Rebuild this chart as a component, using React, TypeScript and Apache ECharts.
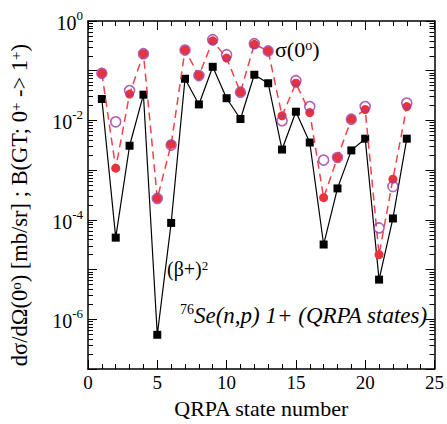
import React, { useEffect, useRef } from "react";
import * as echarts from "echarts";

const states = [1, 2, 3, 4, 5, 6, 7, 8, 9, 10, 11, 12, 13, 14, 15, 16, 17, 18, 19, 20, 21, 22, 23];
const betaPlusSq = [0.027, 4.4e-5, 3.1e-3, 0.033, 4.9e-7, 8.7e-5, 0.069, 0.021, 0.12, 0.028, 0.0107, 0.083, 0.056, 2.6e-3, 0.015, 3.6e-3, 3.2e-5, 4.3e-4, 2.5e-3, 4.3e-3, 6.3e-6, 1.07e-4, 4.3e-3];
const sigmaRed = [0.089, 1.1e-3, 0.034, 0.22, 2.7e-4, 3.3e-3, 0.26, 0.08, 0.4, 0.18, 0.037, 0.34, 0.25, 0.0124, 0.056, 0.0144, 2.8e-4, 1.8e-3, 0.0106, 0.0166, 2.0e-5, 6.6e-4, 0.019];
const sigmaPurple = [0.089, 9.4e-3, 0.04, 0.22, 2.7e-4, 3.2e-3, 0.26, 0.08, 0.42, 0.21, 0.037, 0.35, 0.25, 0.0099, 0.063, 0.019, 1.6e-3, 1.8e-3, 0.0106, 0.019, 6.9e-5, 4.7e-4, 0.0224];
const yMinorTicks: number[] = [];
for (let e = -7; e < 0; e++) {
  for (let m = 2; m <= 9; m++) yMinorTicks.push(Number((m * Math.pow(10, e)).toPrecision(3)));
}

const FONT = "Liberation Serif";

export default function App() {
  const ref = useRef<HTMLDivElement>(null);
  useEffect(() => {
    if (!ref.current) return;
    const chart = echarts.init(ref.current, undefined, { renderer: "svg" });
    const pair = (vals: number[]) => states.map((s, i) => [s, vals[i]]);
    const axisLine = { show: true, lineStyle: { color: "#000", width: 1.5 } };
    const yBase = (pos: string, minor: boolean, labels: boolean) => ({
      type: "log",
      position: pos,
      min: 1e-7,
      max: 1,
      logBase: 10,
      axisLine: minor ? { show: false } : axisLine,
      splitLine: { show: false },
      axisTick: minor
        ? { show: true, inside: true, length: 5, customValues: yMinorTicks, lineStyle: { color: "#000", width: 1 } }
        : { show: true, inside: true, length: 9, lineStyle: { color: "#000", width: 1 } },
      axisLabel: labels
        ? {
            show: true,
            margin: 5,
            formatter: (v: number) => {
              const e = Math.round(Math.log10(v));
              return e % 2 === 0 ? `{b|10}{s|${e}}` : "";
            },
            rich: {
              b: { fontFamily: FONT, fontSize: 20, color: "#000", lineHeight: 24, verticalAlign: "bottom" },
              s: { fontFamily: FONT, fontSize: 13, color: "#000", verticalAlign: "top", lineHeight: 13 },
            },
          }
        : { show: false },
      ...(labels
        ? {
            name: "dσ/dΩ(0{s|o}) [mb/sr] ; B(GT; 0{s|+} -> 1{s|+})",
            nameLocation: "middle",
            nameRotate: 90,
            nameGap: 57,
            nameTextStyle: {
              fontFamily: FONT,
              fontSize: 22.5,
              color: "#000",
              padding: [0, 20, 0, 0],
              rich: {
                s: { fontFamily: FONT, fontSize: 15, color: "#000", verticalAlign: "top", lineHeight: 15 },
              },
            },
          }
        : {}),
    });
    const xBase = (pos: string, labels: boolean) => ({
      type: "value",
      position: pos,
      min: 0,
      max: 25,
      interval: 5,
      axisLine,
      splitLine: { show: false },
      axisTick: { show: true, inside: true, length: 9, lineStyle: { color: "#000", width: 1 } },
      minorTick: { show: true, splitNumber: 5, length: 5, lineStyle: { color: "#000", width: 1 } },
      minorSplitLine: { show: false },
      axisLabel: labels
        ? { show: true, fontFamily: FONT, fontSize: 19, color: "#000", margin: 4 }
        : { show: false },
      ...(labels
        ? {
            name: "QRPA state number",
            nameLocation: "middle",
            nameGap: 20,
            nameTextStyle: { fontFamily: FONT, fontSize: 22, color: "#000", verticalAlign: "top" },
          }
        : {}),
    });
    chart.setOption({
      animation: false,
      backgroundColor: "#fff",
      grid: { left: 80, right: 11, top: 21, bottom: 47, containLabel: false },
      xAxis: [xBase("bottom", true), xBase("top", false)],
      yAxis: [yBase("left", false, true), yBase("left", true, false), yBase("right", false, false), yBase("right", true, false)],
      series: [
        {
          type: "line",
          data: pair(betaPlusSq),
          xAxisIndex: 0,
          yAxisIndex: 0,
          symbol: "rect",
          symbolSize: 8,
          lineStyle: { color: "#000", width: 1.2 },
          itemStyle: { color: "#000" },
          z: 2,
        },
        {
          type: "line",
          data: pair(sigmaRed),
          xAxisIndex: 0,
          yAxisIndex: 0,
          symbol: "circle",
          symbolSize: 9,
          lineStyle: { color: "#f0424a", width: 1.5, type: [8, 5] },
          itemStyle: { color: "#e8323c" },
          z: 3,
        },
        {
          type: "scatter",
          data: pair(sigmaPurple),
          xAxisIndex: 0,
          yAxisIndex: 0,
          symbol: "circle",
          symbolSize: 10,
          itemStyle: { color: "rgba(0,0,0,0)", borderColor: "#9b3aa3", borderWidth: 1.6 },
          z: 4,
        },
      ],
      graphic: [
        {
          type: "text",
          left: 275,
          top: 38,
          style: {
            text: "σ(0{s|o})",
            fontFamily: FONT,
            fontSize: 22,
            fill: "#000",
            rich: {
              s: { fontFamily: FONT, fontSize: 14, fill: "#000", verticalAlign: "top", lineHeight: 14 },
            },
          },
        },
        {
          type: "text",
          left: 167,
          top: 259,
          style: {
            text: "(β+){s|2}",
            fontFamily: FONT,
            fontSize: 20,
            fill: "#000",
            rich: {
              s: { fontFamily: FONT, fontSize: 13, fill: "#000", verticalAlign: "top", lineHeight: 13 },
            },
          },
        },
        {
          type: "text",
          left: 180,
          top: 302,
          style: {
            text: "{s|76}{i|Se(n,p) 1+ (QRPA states)}",
            fontFamily: FONT,
            fill: "#000",
            rich: {
              s: { fontFamily: FONT, fontSize: 14, fill: "#000", verticalAlign: "top", lineHeight: 14 },
              i: { fontFamily: FONT, fontSize: 23, fontStyle: "italic", fill: "#000", lineHeight: 27 },
            },
          },
        },
      ],
    });
    return () => chart.dispose();
  }, []);
  return <div ref={ref} style={{ width: 447, height: 424, position: "absolute", left: 0, top: 0 }} />;
}
